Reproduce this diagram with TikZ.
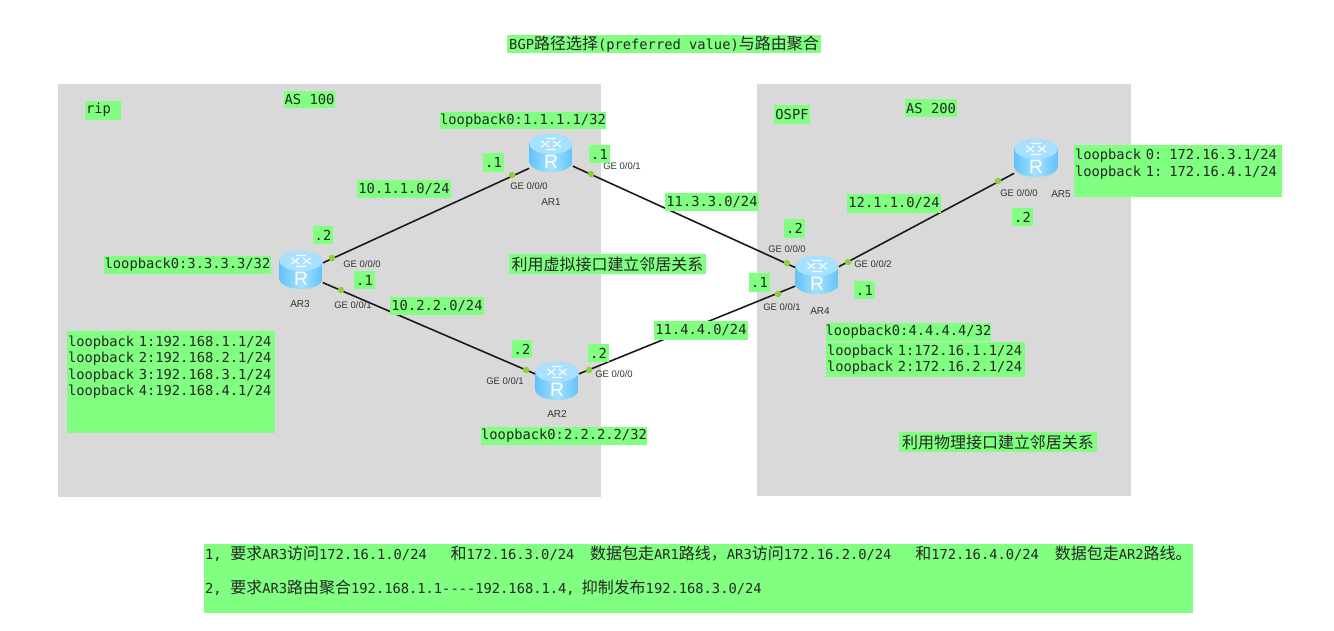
\documentclass[tikz,border=0pt]{standalone}
\usepackage{fontspec}
\setsansfont{Liberation Sans}
\setmonofont{DejaVu Sans Mono}
\newfontfamily\cjk{Noto Sans CJK SC}
\usetikzlibrary{calc}

\definecolor{labelGreen}{HTML}{80FF80}
\definecolor{zoneGray}{HTML}{D9D9D9}
\definecolor{portGreen}{HTML}{8FCF3A}
\definecolor{routerDark}{HTML}{62C2FA}
\definecolor{routerMid}{HTML}{A4E2FF}
\definecolor{routerTop}{HTML}{A8E0FF}

\newcommand{\zh}[1]{{\cjk\fontsize{9.1}{9.4}\selectfont #1}}

\tikzset{
    zone/.style={fill=zoneGray, draw=none},
    link/.style={draw=black!90, line width=0.9pt},
    port/.style={circle, fill=portGreen, inner sep=0pt, minimum size=0.13cm},
    lbl/.style 2 args={fill=labelGreen, inner sep=0pt, text=black!85,
        font=\ttfamily\fontsize{7.83}{9.4}\selectfont,
        minimum width=#1*0.02cm, minimum height=#2*0.02cm},
    lblleft/.style 2 args={lbl={#1}{#2}, align=left, text width=(#1-2)*0.02cm},
    ifname/.style={text=black!80, inner sep=0pt, font=\sffamily\fontsize{5.4}{6}\selectfont},
    devname/.style={text=black!80, inner sep=0pt, font=\sffamily\fontsize{5.7}{6}\selectfont},
    router/.style={minimum width=0.86cm, minimum height=0.76cm, inner sep=0pt,
        path picture={
            \begin{scope}[x=1cm, y=1cm, shift={(path picture bounding box.center)}]
                % cylinder body
                \shade[left color=routerDark, right color=routerDark, middle color=routerMid]
                    (-0.43,0.18) -- (-0.43,-0.18)
                    arc[start angle=180, end angle=360, x radius=0.43, y radius=0.2]
                    -- (0.43,0.18)
                    arc[start angle=0, end angle=180, x radius=0.43, y radius=0.2];
                % top face
                \fill[routerTop] (0,0.18) ellipse[x radius=0.43, y radius=0.2];
                \draw[white, line width=0.6pt, line cap=round]
                    (-0.19,0.24) -- (-0.04,0.12) (0.04,0.24) -- (0.19,0.12)
                    (-0.19,0.12) -- (-0.04,0.24) (0.04,0.12) -- (0.19,0.24)
                    (-0.09,0.29) -- (0.09,0.29) (-0.09,0.07) -- (0.09,0.07);
                \node[white, inner sep=0pt, font=\sffamily\fontsize{11}{11}\selectfont] at (0,-0.17) {R};
            \end{scope}
        }},
}

\begin{document}
\begin{tikzpicture}[x=0.02cm, y=-0.02cm]
\useasboundingbox (0,0) rectangle (1334,630);

% --- AS ZONES ---
\fill[zone] (58,84) rectangle (601,497);
\fill[zone] (757,84) rectangle (1131,496);

% --- ROUTERS ---
\node[router] (ar1) at (551,153) {};
\node[router] (ar2) at (557,381) {};
\node[router] (ar3) at (301,270) {};
\node[router] (ar4) at (817,275) {};
\node[router] (ar5) at (1036,158) {};

\node[devname] (nameAr1) at (551,202) {AR1};
\node[devname] (nameAr2) at (557,414) {AR2};
\node[devname] (nameAr3) at (300,304) {AR3};
\node[devname] (nameAr4) at (820,311) {AR4};
\node[devname] (nameAr5) at (1061,194) {AR5};

% --- LINKS ---
\draw[link] (ar3.18) -- (ar1.215);
\draw[link] (ar3.-30) -- (ar2.162);
\draw[link] (ar1.-31) -- (ar4.161);
\draw[link] (ar2.18) -- (ar4.207);
\draw[link] (ar4.21) -- (ar5.215);

% --- PORTS ---
\node[port] (p3a) at (332,258) {};
\node[port] (p3b) at (341,290) {};
\node[port] (p1a) at (512,175) {};
\node[port] (p1b) at (591,174) {};
\node[port] (p2a) at (526,370) {};
\node[port] (p2b) at (589,370) {};
\node[port] (p4a) at (787,263) {};
\node[port] (p4b) at (778,294) {};
\node[port] (p4c) at (848,262) {};
\node[port] (p5a) at (998,181) {};

\node[ifname] (if3a) at (362,264) {GE 0/0/0};
\node[ifname] (if3b) at (353,305) {GE 0/0/1};
\node[ifname] (if1a) at (529,186) {GE 0/0/0};
\node[ifname] (if1b) at (622,166) {GE 0/0/1};
\node[ifname] (if2a) at (505,381) {GE 0/0/1};
\node[ifname] (if2b) at (614,374) {GE 0/0/0};
\node[ifname] (if4a) at (787,249) {GE 0/0/0};
\node[ifname] (if4b) at (782,307) {GE 0/0/1};
\node[ifname] (if4c) at (873,264) {GE 0/0/2};
\node[ifname] (if5a) at (1019,193) {GE 0/0/0};

% --- TITLE AND ZONE LABELS ---
\node[lbl={314}{18}] (title) at (664,44) {BGP\zh{路径选择}(preferred value)\zh{与路由聚合}};
\node[lblleft={36}{19}] (rip) at (103,110) {rip};
\node[lbl={51}{17}] (as100) at (309.5,99.5) {AS 100};
\node[lbl={36}{19}] (ospf) at (792,114.5) {OSPF};
\node[lbl={52}{18}] (as200) at (931,108) {AS 200};

% --- SUBNETS ---
\node[lbl={94}{18}] (net1) at (404,189) {10.1.1.0/24};
\node[lbl={94}{18}] (net2) at (437,306) {10.2.2.0/24};
\node[lbl={94}{18}] (net3) at (712,202) {11.3.3.0/24};
\node[lbl={94}{19}] (net4) at (701,330.5) {11.4.4.0/24};
\node[lbl={94}{19}] (net5) at (894,203.5) {12.1.1.0/24};

% --- HOST PARTS ---
\node[lbl={21}{19}] (h1a) at (493.5,162.5) {.1};
\node[lbl={21}{18}] (h1b) at (599.5,154) {.1};
\node[lbl={20}{18}] (h3a) at (323,235) {.2};
\node[lbl={21}{18}] (h3b) at (364.5,280) {.1};
\node[lbl={20}{18}] (h2a) at (522,349) {.2};
\node[lbl={21}{18}] (h2b) at (598.5,353) {.2};
\node[lbl={21}{19}] (h4a) at (794.5,228.5) {.2};
\node[lbl={21}{19}] (h4b) at (759.5,282.5) {.1};
\node[lbl={21}{18}] (h4c) at (864.5,290) {.1};
\node[lbl={21}{18}] (h5a) at (1022.5,217) {.2};

% --- LOOPBACKS ---
\node[lbl={166}{17}] (lo1) at (523,120.5) {loopback0:1.1.1.1/32};
\node[lbl={167}{18}] (lo3) at (187.5,265) {loopback0:3.3.3.3/32};
\node[lbl={165}{18}] (lo2) at (564,436) {loopback0:2.2.2.2/32};
\node[lbl={165}{18}] (lo4) at (908.5,332) {loopback0:4.4.4.4/32};
\node[lblleft={208}{102}] (loAr3) at (171,382) {loopback 1:192.168.1.1/24\\loopback 2:192.168.2.1/24\\loopback 3:192.168.3.1/24\\loopback 4:192.168.4.1/24\\[9pt]\mbox{}};
\node[lblleft={199}{35}] (loAr4) at (925.5,359.5) {loopback 1:172.16.1.1/24\\loopback 2:172.16.2.1/24};
\node[lblleft={208}{52}] (loAr5) at (1178,171) {loopback 0: 172.16.3.1/24\\loopback 1: 172.16.4.1/24\\\mbox{}};

% --- NOTES ---
\node[lbl={197}{20}] (noteVirt) at (607.5,264) {\zh{利用虚拟接口建立邻居关系}};
\node[lbl={198}{20}] (notePhys) at (998,442) {\zh{利用物理接口建立邻居关系}};
\node[lblleft={989}{69}] (task) at (698.5,578.5) {1,\hspace*{5pt}\zh{要求}AR3\zh{访问}172.16.1.0/24\hspace*{13.6pt}\zh{和}172.16.3.0/24\hspace*{9pt}\zh{数据包走}AR1\zh{路线，}AR3\zh{访问}172.16.2.0/24\hspace*{13.6pt}\zh{和}172.16.4.0/24\hspace*{9pt}\zh{数据包走}AR2\zh{路线。}\\[9.9pt]2,\hspace*{5pt}\zh{要求}AR3\zh{路由聚合}192.168.1.1----192.168.1.4,\hspace*{4pt}\zh{抑制发布}192.168.3.0/24\\[1pt]\mbox{}};

\end{tikzpicture}
\end{document}
